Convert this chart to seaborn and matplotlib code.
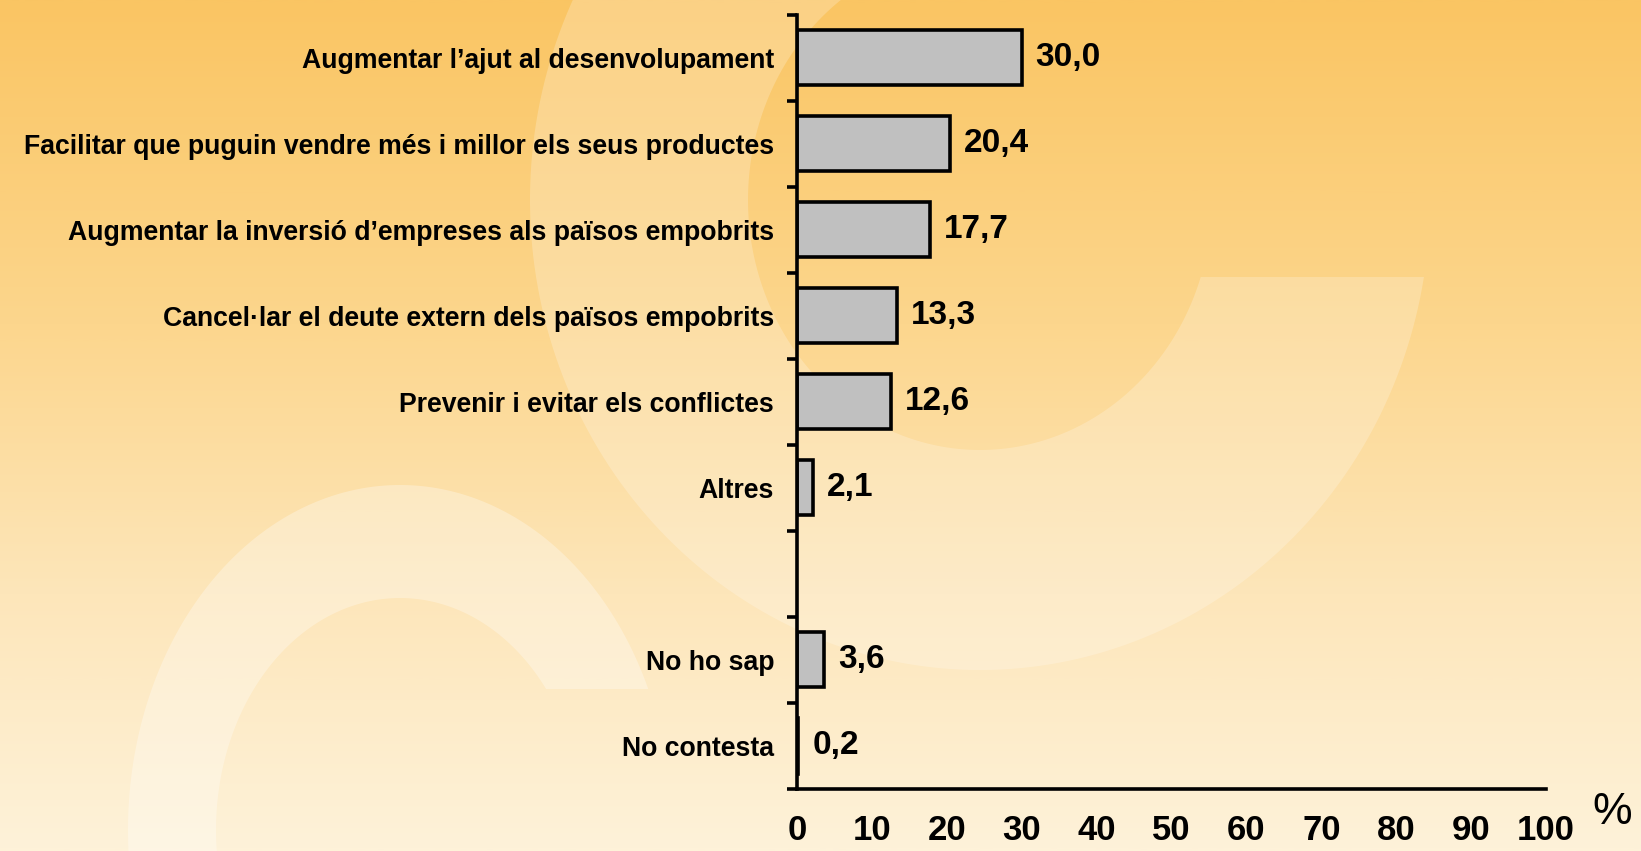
import numpy as np
import matplotlib
matplotlib.use("Agg")
import matplotlib.pyplot as plt
from matplotlib.patches import Polygon
from matplotlib.colors import LinearSegmentedColormap
from matplotlib import font_manager
import seaborn as sns

# ---------------- data ----------------
categories = [
    "Augmentar l\u2019ajut al desenvolupament",
    "Facilitar que puguin vendre més i millor els seus productes",
    "Augmentar la inversió d\u2019empreses als països empobrits",
    "Cancel\u00b7lar el deute extern dels països empobrits",
    "Prevenir i evitar els conflictes",
    "Altres",
    "No ho sap",
    "No contesta",
]
values = [30.0, 20.4, 17.7, 13.3, 12.6, 2.1, 3.6, 0.2]
# order of rows on the axis (blank row between "Altres" and "No ho sap")
row_order = categories[:6] + [" "] + categories[6:]
x_ticks = list(range(0, 101, 10))
unit_label = "%"

# ---------------- style ----------------
sns.set_theme(style="white")
plt.rcParams["font.family"] = ["Liberation Sans", "DejaVu Sans"]
plt.rcParams["text.color"] = "black"
plt.rcParams["xtick.color"] = "black"
plt.rcParams["ytick.color"] = "black"
names = {f.name for f in font_manager.fontManager.ttflist}
narrow = "Liberation Sans Narrow" if "Liberation Sans Narrow" in names else "Liberation Sans"

W, H = 1641, 851
fig = plt.figure(figsize=(W / 100, H / 100), dpi=100)

# background gradient
bg = fig.add_axes([0, 0, 1, 1], zorder=0)
bg.set_xlim(0, W)
bg.set_ylim(0, H)
bg.axis("off")
cmap = LinearSegmentedColormap.from_list(
    "bgc",
    [(0.0, "#FEF2D9"), (0.3, "#FDE6BA"), (0.62, "#FCD68D"), (1.0, "#FAC563")],
)
grad = np.linspace(0, 1, 400).reshape(-1, 1)
bg.imshow(grad, extent=[0, W, 0, H], origin="lower", aspect="auto", cmap=cmap, zorder=0)


def band(cx, cy, ro, ri, a_end, cut_y, alpha, n=200):
    """elliptical annulus band in pixel coords (y-down input)"""
    cyu = H - cy
    dyu = (H - cut_y) - cyu
    ao = np.degrees(np.arcsin(np.clip(dyu / ro[1], -1, 1)))
    ai = np.degrees(np.arcsin(np.clip(dyu / ri[1], -1, 1)))
    t_o = np.radians(np.linspace(ao, a_end, n))
    t_i = np.radians(np.linspace(a_end, ai, n))
    xo = cx + ro[0] * np.cos(t_o)
    yo = cyu + ro[1] * np.sin(t_o)
    xi = cx + ri[0] * np.cos(t_i)
    yi = cyu + ri[1] * np.sin(t_i)
    pts = np.column_stack([np.r_[xo, xi], np.r_[yo, yi]])
    bg.add_patch(Polygon(pts, closed=True, facecolor="white", edgecolor="none",
                         alpha=alpha, zorder=1))


# upper-right "c" shape
band(980, 200, (450, 470), (232, 250), -260, 277, 0.22)
# lower-left shape
band(400, 830, (272, 345), (184, 232), 270, 689, 0.30)

# ---------------- main axes ----------------
left, right = 797 / W, 1546 / W
bottom, top = 1 - 789 / H, 1 - 14.5 / H
ax = fig.add_axes([left, bottom, right - left, top - bottom], zorder=2)
ax.patch.set_alpha(0)

sns.barplot(x=values, y=categories, order=row_order, orient="h",
            color="#C0C0C0", edgecolor="black", linewidth=2.6, width=0.64,
            saturation=1, ax=ax)

ax.set_xlim(0, 100)
ax.set_ylim(len(row_order) - 0.5, -0.5)
ax.set_xlabel("")
ax.set_ylabel("")

for s in ["top", "right"]:
    ax.spines[s].set_visible(False)
for s in ["left", "bottom"]:
    ax.spines[s].set_linewidth(2.6)
    ax.spines[s].set_color("black")

ax.set_xticks(x_ticks)
ax.set_xticklabels([str(t) for t in x_ticks], fontsize=25, fontweight="bold",
                   family=narrow, color="black")
ax.tick_params(axis="x", direction="out", length=7.2, width=2.6, color="black",
               pad=11)

ax.set_yticks(range(len(row_order)))
ax.set_yticklabels(row_order, fontsize=19.2, fontweight="bold", color="black")
ax.set_yticks(np.arange(-0.5, len(row_order), 1.0), minor=True)
ax.tick_params(axis="y", which="major", length=0, pad=16.5)
ax.tick_params(axis="y", which="minor", direction="out", length=7.2, width=2.6,
               color="black", left=True)
for lab in ax.get_yticklabels():
    lab.set_va("center_baseline")

labels = [f"{v:.1f}".replace(".", ",") for v in values]
ax.bar_label(ax.containers[0], labels=labels, padding=10, fontsize=24,
             fontweight="bold", color="black")

fig.text(1612 / W, 1 - 813 / H, unit_label, fontsize=32, ha="center",
         va="center", color="black")

fig.savefig("out.png", dpi=100)
